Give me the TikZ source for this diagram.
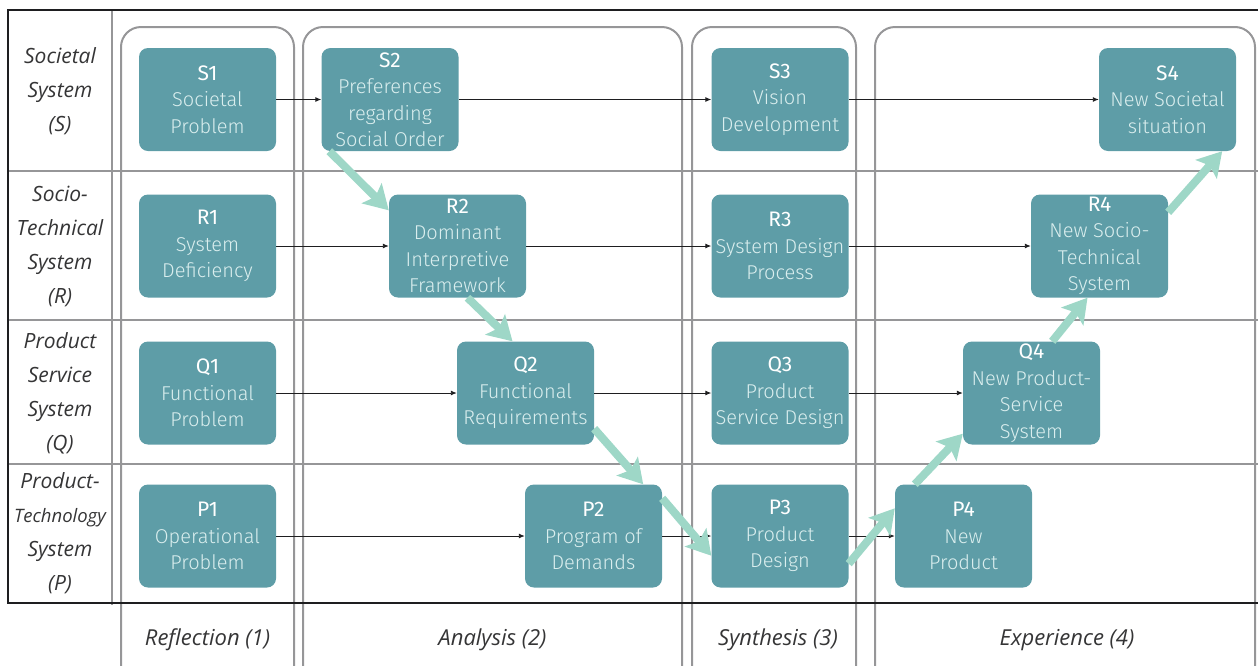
\documentclass[tikz,border=0pt]{standalone}
\usepackage{fontspec}
\usetikzlibrary{arrows.meta,calc}
\newfontfamily\boxfont{Fira Sans Light}
\newfontfamily\boxtitlefont{Fira Sans}
\newfontfamily\rowfont{Open Sans}
\definecolor{teal}{RGB}{94,157,167}
\definecolor{mint}{RGB}{158,215,199}
\definecolor{boxtext}{RGB}{218,238,238}
\definecolor{gridgray}{RGB}{150,150,152}
\definecolor{frameblack}{RGB}{30,30,32}
\newcommand{\ttl}[1]{{\boxtitlefont\fontsize{21}{26.5}\selectfont\color{white}#1}}
\begin{document}
\begin{tikzpicture}[x=1pt,y=-1pt,
  stage/.style={rectangle,rounded corners=9pt,fill=teal,
    minimum width=137pt,minimum height=103pt,inner sep=0pt,align=center,
    text=boxtext,font=\fontsize{20}{26.5}\selectfont\boxfont},
  rowlabel/.style={align=center,inner sep=0pt,
    font=\fontsize{21}{34}\selectfont\rowfont\itshape,text=frameblack!90},
  collabel/.style={inner sep=0pt,font=\fontsize{22}{26}\selectfont\rowfont\itshape,text=frameblack!90},
  grid/.style={draw=gridgray,line width=2pt},
  phase/.style={draw=gridgray,line width=2pt,rounded corners=20pt},
  flow/.style={draw=frameblack,line width=0.9pt,-{Latex[length=6pt,width=5pt]}},
  path/.style={draw=mint,line width=8pt,-{Stealth[length=24pt,width=28pt,inset=5pt]}}]
\useasboundingbox (0,0) rectangle (1258,665);
\clip (0,0) rectangle (1258,665);

% row dividers and the label column divider
\draw[grid] (8,171) -- (1270,171);
\draw[grid] (8,320) -- (1270,320);
\draw[grid] (8,464) -- (1270,464);
\draw[grid] (112,10) -- (112,605);

% phase columns
\draw[phase] (121,690) -- (121,27) -- (294,27) -- (294,690);
\draw[phase] (303,690) -- (303,27) -- (682,27) -- (682,690);
\draw[phase] (692,690) -- (692,27) -- (856,27) -- (856,690);
\draw[phase] (875,690) -- (875,27) -- (1255,27) -- (1255,690);

% outer frame
\draw[frameblack,line width=2.5pt] (1270,10) -- (8,10) -- (8,603) -- (1270,603);

% row labels
\node[rowlabel] (rowS) at (60,91) {Societal\\System\\(S)};
\node[rowlabel] (rowR) at (60,246) {Socio-\\Technical\\System\\(R)};
\node[rowlabel] (rowQ) at (60,393.5) {Product\\Service\\System\\(Q)};
\node[rowlabel] (rowP) at (60,533.5) {Product-\\{\fontsize{18.5}{34}\selectfont Technology}\\System\\(P)};

% phase labels
\node[collabel] (colA) at (207.5,640) {Reflection (1)};
\node[collabel] (colB) at (492.5,640) {Analysis (2)};
\node[collabel] (colC) at (778,640) {Synthesis (3)};
\node[collabel] (colD) at (1067,640) {Experience (4)};

% stages
\node[stage] (S1) at (207.5,99.5) {\ttl{S1}\\Societal\\Problem};
\node[stage] (S2) at (390,99.5) {\ttl{S2}\\Preferences\\regarding\\Social Order};
\node[stage] (S3) at (780,99.5) {\ttl{S3}\\Vision\\Development};
\node[stage] (S4) at (1167.5,99.5) {\ttl{S4}\\New Societal\\situation};

\node[stage] (R1) at (207.5,246) {\ttl{R1}\\System\\Deficiency};
\node[stage] (R2) at (457.5,246) {\ttl{R2}\\Dominant\\Interpretive\\Framework};
\node[stage] (R3) at (780,246) {\ttl{R3}\\System Design\\Process};
\node[stage] (R4) at (1099.5,246) {\ttl{R4}\\New Socio-\\Technical\\System};

\node[stage] (Q1) at (207.5,393) {\ttl{Q1}\\Functional\\Problem};
\node[stage] (Q2) at (525.5,393) {\ttl{Q2}\\Functional\\Requirements};
\node[stage] (Q3) at (780,393) {\ttl{Q3}\\Product\\Service Design};
\node[stage] (Q4) at (1031.5,393) {\ttl{Q4}\\New Product-\\Service\\System};

\node[stage] (P1) at (207.5,536) {\ttl{P1}\\Operational\\Problem};
\node[stage] (P2) at (593.5,536) {\ttl{P2}\\Program of\\Demands};
\node[stage] (P3) at (780,536) {\ttl{P3}\\Product\\Design};
\node[stage] (P4) at (963.5,536) {\ttl{P4}\\New\\Product};

% flows within each system level
\foreach \r in {S,R,Q,P}{
  \draw[flow] (\r1.east) -- (\r2.west);
  \draw[flow] (\r2.east) -- (\r3.west);
  \draw[flow] (\r3.east) -- (\r4.west);
}

% path through the levels
\draw[path] ($(S2.south west)+(8,0)$) -- ($(R2.north west)+(0,16)$);
\draw[path] ($(R2.south)+(10,0)$) -- ($(Q2.north)+(-13,0)$);
\draw[path] ($(Q2.south east)+(0,-16)$) -- ($(P2.north east)+(-19,0)$);
\draw[path] ($(P2.north east)+(0,14)$) -- ($(P3.south west)+(0,-32)$);
\draw[path] ($(P3.south east)+(0,-24)$) -- ($(P4.north west)+(0,24)$);
\draw[path] ($(P4.north west)+(20,0)$) -- ($(Q4.south west)+(0,-11)$);
\draw[path] ($(Q4.north east)+(-48,0)$) -- ($(R4.south)+(-12,0)$);
\draw[path] ($(R4.north east)+(0,18)$) -- ($(S4.south east)+(-14,0)$);
\end{tikzpicture}
\end{document}
